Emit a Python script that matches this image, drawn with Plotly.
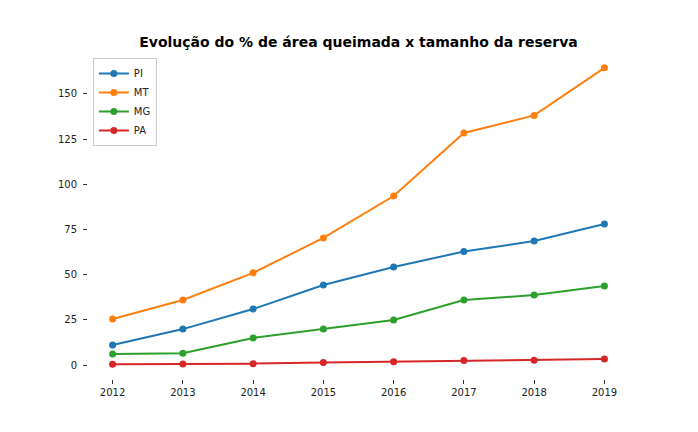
import plotly.graph_objects as go

years = [2012, 2013, 2014, 2015, 2016, 2017, 2018, 2019]
pi = [11.1, 19.9, 31.0, 44.3, 54.2, 62.8, 68.6, 78.0]
mt = [25.5, 36.0, 51.0, 70.3, 93.5, 128.4, 138.1, 164.4]
mg = [6.1, 6.6, 15.0, 19.9, 24.9, 36.0, 38.7, 43.7]
pa = [0.5, 0.6, 0.8, 1.4, 1.9, 2.5, 2.7, 3.3]

series = [("PI", pi, "#1f77b4"), ("MT", mt, "#ff7f0e"), ("MG", mg, "#2ca02c"), ("PA", pa, "#d62728")]

fig = go.Figure()
for name, vals, color in series:
    fig.add_trace(go.Scatter(x=years, y=vals, name=name, mode="lines+markers",
                             line=dict(color=color, width=2),
                             marker=dict(color=color, size=7)))

W, H = 690, 424
fig.update_layout(
    width=W, height=H,
    paper_bgcolor="white", plot_bgcolor="white",
    margin=dict(l=80, r=69, t=45, b=53),
    font=dict(family="DejaVu Sans", size=10, color="#222"),
    title=dict(text="<b>Evolução do % de área queimada x tamanho da reserva</b>",
               x=0.5, xref="paper", xanchor="center", y=1 - 34/H, yanchor="middle",
               font=dict(size=14, color="black")),
    showlegend=True,
    legend=dict(x=0.009, y=0.985, xanchor="left", yanchor="top",
                bgcolor="white", bordercolor="#cccccc", borderwidth=1,
                font=dict(size=10), tracegroupgap=0, itemwidth=30),
    xaxis=dict(range=[2011.65, 2019.35], tickmode="array", tickvals=years,
               ticktext=[str(y) for y in years], showgrid=False, zeroline=False,
               showline=False, ticks="outside", ticklen=4, tickcolor="#333"),
    yaxis=dict(range=[-7.7, 172.6], tickvals=[0, 25, 50, 75, 100, 125, 150],
               showgrid=False, zeroline=False, showline=False,
               ticks="outside", ticklen=4, tickcolor="#333", ticklabelstandoff=4),
)

fig.write_html("out.html")
